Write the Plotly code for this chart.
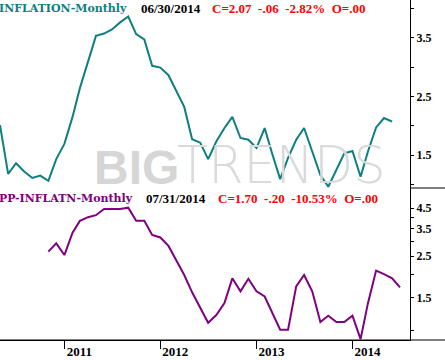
import pandas as pd
import plotly.graph_objects as go
import math

# ---- data ----
cpi_start = "2010-05-01"
cpi_values = [2.01, 1.18, 1.36, 1.22, 1.11, 1.15, 1.06, 1.43,
              1.69, 2.15, 2.64, 3.09, 3.53, 3.57, 3.64, 3.76, 3.86, 3.56, 3.47, 3.02,
              2.99, 2.86, 2.60, 2.32, 1.77, 1.71, 1.43, 1.73, 1.96, 2.15, 1.79, 1.76,
              1.62, 1.96, 1.53, 1.09, 1.45, 1.76, 1.96, 1.56, 1.16, 0.96, 1.25, 1.53,
              1.57, 1.13, 1.56, 1.97, 2.13, 2.07]
pp_start = "2010-11-01"
pp_values = [2.64, 2.92,
             2.53, 3.33, 3.85, 4.03, 4.13, 4.46, 4.46, 4.46, 4.53, 3.86, 3.86, 3.24,
             3.14, 2.83, 2.38, 1.98, 1.60, 1.32, 1.10, 1.21, 1.40, 1.90, 1.62, 1.89,
             1.62, 1.52, 1.24, 1.01, 1.01, 1.72, 1.98, 1.62, 1.11, 1.20, 1.11, 1.11,
             1.20, 0.90, 1.40, 2.09, 2.00, 1.90, 1.70]
year_ticks = ["2011-01-01", "2012-01-01", "2013-01-01", "2014-01-01"]
year_labels = ["2011", "2012", "2013", "2014"]
top_major = [1.5, 2.5, 3.5]
top_minor = [1, 2, 3, 4]
bot_major = [1.5, 2.5, 3.5, 4.5]
bot_minor = [1, 2, 3, 4]

cpi_dates = pd.date_range(cpi_start, periods=len(cpi_values), freq="MS")
pp_dates = pd.date_range(pp_start, periods=len(pp_values), freq="MS")

TEAL = "#0e7f80"
PURPLE = "#800080"
SERIF = "Liberation Serif"
WIDE_SERIF = "DejaVu Serif"

fig = go.Figure()
fig.add_trace(go.Scatter(x=cpi_dates, y=cpi_values, mode="lines",
                         line=dict(color=TEAL, width=2), xaxis="x2", yaxis="y2",
                         hoverinfo="skip"))
fig.add_trace(go.Scatter(x=pp_dates, y=pp_values, mode="lines",
                         line=dict(color=PURPLE, width=2), xaxis="x", yaxis="y",
                         hoverinfo="skip"))

H = 340.0
W = 410.0
split = 1 - 188 / H
xrange = ["2010-05-01", "2014-08-08"]

fig.update_layout(
    width=445, height=360,
    margin=dict(l=0, r=35, t=0, b=20, autoexpand=False),
    paper_bgcolor="white", plot_bgcolor="white",
    showlegend=False,
    xaxis=dict(domain=[0, 1], anchor="y", range=xrange, type="date", automargin=False,
               tickvals=year_ticks, ticktext=year_labels,
               ticks="outside", ticklen=8, tickcolor="black", tickwidth=1,
               showline=True, linecolor="black", linewidth=1,
               showgrid=False, zeroline=False,
               ticklabelshift=15, ticklabelstandoff=-9,
               tickfont=dict(family=SERIF, size=13, color="black", weight="bold")),
    xaxis2=dict(domain=[0, 1], anchor="y2", range=xrange, type="date",
                matches="x", visible=False, automargin=False),
    yaxis=dict(domain=[0, split], anchor="x", side="right", type="log", automargin=False,
               range=[math.log10(0.89), math.log10(5.77)],
               tickvals=bot_major, ticktext=[str(v) for v in bot_major],
               ticks="outside", ticklen=3, tickcolor="black",
               minor=dict(tickvals=bot_minor, ticks="outside", ticklen=3, tickcolor="black"),
               showline=True, linecolor="black", linewidth=1,
               showgrid=False, zeroline=False,
               tickfont=dict(family=SERIF, size=12, color="black", weight="bold")),
    yaxis2=dict(domain=[split, 1], anchor="x2", side="right", automargin=False,
                range=[0.938, 4.142],
                tickvals=top_major, ticktext=[str(v) for v in top_major],
                ticks="outside", ticklen=3, tickcolor="black",
                minor=dict(tickvals=top_minor, ticks="outside", ticklen=3, tickcolor="black"),
                showline=True, linecolor="black", linewidth=1,
                showgrid=False, zeroline=False,
                tickfont=dict(family=SERIF, size=12, color="black", weight="bold")),
)

# separator lines extending into the right margin
fig.add_shape(type="line", xref="paper", yref="paper", x0=1, x1=1.2, y0=split, y1=split,
              line=dict(color="black", width=1))
fig.add_shape(type="line", xref="paper", yref="paper", x0=0, x1=1.2, y0=0, y1=0,
              line=dict(color="black", width=1))

# watermark
fig.add_annotation(text="BIG", xref="paper", yref="paper", x=93 / W, y=1 - 167 / H,
                   xanchor="left", yanchor="middle", showarrow=False, borderpad=0,
                   height=40,
                   font=dict(family="Liberation Sans", size=48, color="#d6d6d6", weight="bold"))
fig.add_annotation(text="TRENDS", xref="paper", yref="paper", x=176 / W, y=1 - 165 / H,
                   xanchor="left", yanchor="middle", showarrow=False, borderpad=0,
                   height=40,
                   font=dict(family="DejaVu Sans", size=51, color="#dadada", weight=200))


def label(text, color, x_px, y_px, family, size):
    fig.add_annotation(text=text, xref="paper", yref="paper", x=x_px / W, y=1 - y_px / H,
                       xanchor="left", yanchor="middle", showarrow=False, borderpad=0,
                       font=dict(family=family, size=size, color=color, weight="bold"))


label("INFLATION-Monthly", TEAL, -2, 8, WIDE_SERIF, 11)
label("06/30/2014", "black", 140, 8, SERIF, 13)
label("C=2.07&nbsp;&nbsp;-.06&nbsp;&nbsp;-2.82%&nbsp;&nbsp;O=.00", "red", 211, 8, SERIF, 13)
label("PP-INFLATN-Monthly", PURPLE, -2, 198, WIDE_SERIF, 11)
label("07/31/2014", "black", 145, 198, SERIF, 13)
label("C=1.70&nbsp;&nbsp;-.20&nbsp;&nbsp;-10.53%&nbsp;&nbsp;O=.00", "red", 217, 198, SERIF, 13)

fig.write_html("out.html", config={"displayModeBar": False},
               post_script="document.body.style.margin='0px';document.body.style.padding='0px';")
